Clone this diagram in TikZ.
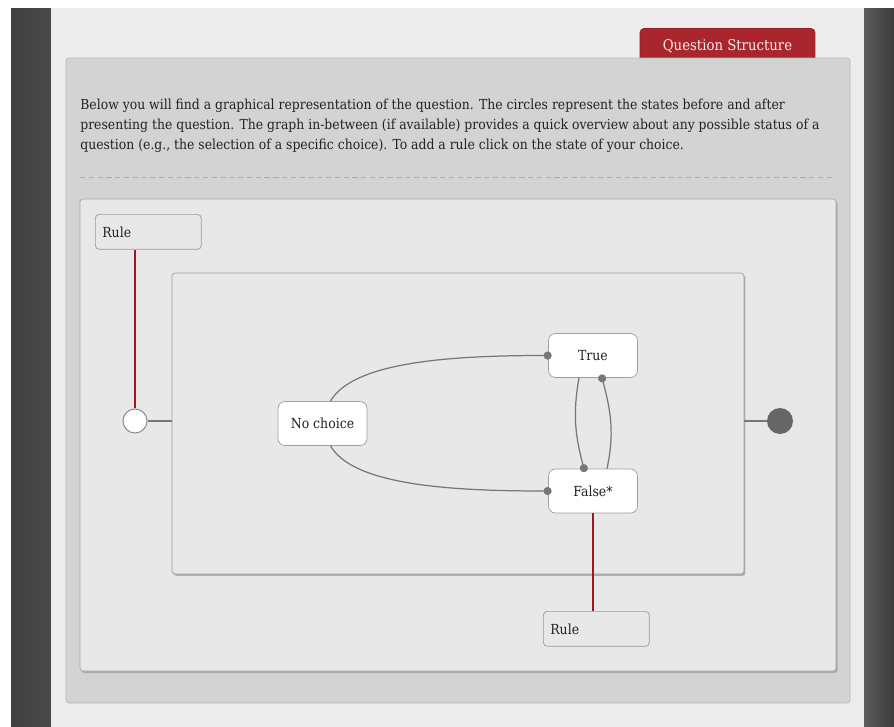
\documentclass[tikz,border=0pt]{standalone}
\usepackage{fontspec}
\setmainfont{DejaVu Serif Condensed}
\usetikzlibrary{arrows.meta,shadows}

\definecolor{wood}{HTML}{4A4A4A}
\definecolor{page}{HTML}{ECECEC}
\definecolor{panel}{HTML}{D3D3D3}
\definecolor{canvas}{HTML}{E8E8E8}
\definecolor{tabred}{HTML}{A8262C}
\definecolor{ruleline}{HTML}{A0161C}
\definecolor{edgegray}{HTML}{777777}
\definecolor{ink}{HTML}{222222}

\begin{document}
\begin{tikzpicture}[x=0.02cm,y=-0.02cm,
    state/.style={draw=gray!75,fill=white,rounded corners=0.14cm,
        minimum width=1.78cm,minimum height=0.88cm,
        font=\fontsize{7.9}{9}\selectfont,text=ink},
    rulebox/.style={draw=gray!80,fill=canvas,rounded corners=0.08cm,anchor=north west,
        text width=1.84cm,inner xsep=0.14cm,minimum height=0.70cm,align=left,
        font=\fontsize{7.9}{9}\selectfont,text=ink},
    edge/.style={draw=edgegray,line width=0.7pt},
    dotedge/.style={edge,-{Circle[length=4.6pt]},shorten >=-2pt},
    redline/.style={ruleline,line width=0.9pt}]

    % page, wood frame
    \useasboundingbox (0,0) rectangle (894,727);
    \fill[white] (0,0) rectangle (894,727);
    \fill[left color=wood!85!black,right color=wood] (11,8) rectangle (51,727);
    \fill[left color=wood!90!white,right color=wood!80!black] (864,8) rectangle (894,727);
    \fill[page] (51,8) rectangle (864,727);

    % tab on top of the panel
    \node[fill=tabred,draw=tabred!85!black,rounded corners=0.08cm,text=white!92!red,
        minimum width=3.5cm,minimum height=0.66cm,font=\fontsize{8.4}{10}\selectfont,
        text depth=0pt] (tab) at (727.5,45) {Question Structure};

    % outer panel
    \draw[fill=panel,draw=gray!55,rounded corners=0.06cm] (66,58) rectangle (850,703);

    % intro text
    \node[anchor=north west,align=left,inner sep=0pt,text=ink,
        font=\fontsize{7.85}{11.3}\selectfont] (intro) at (80,98.5)
        {Below you will find a graphical representation of the question. The circles represent the states before and after\\
         presenting the question. The graph in-between (if available) provides a quick overview about any possible status of a\\
         question (e.g., the selection of a specific choice). To add a rule click on the state of your choice.};
    \draw[gray!65,dash pattern=on 3pt off 2pt] (80,177) -- (833,177);

    % inner canvas
    \draw[fill=canvas,draw=gray!70,rounded corners=0.06cm,
        drop shadow={shadow xshift=0.03cm,shadow yshift=-0.04cm,fill=gray!80,opacity=0.7}]
        (80,199) rectangle (836,671);

    % group box
    \node[draw=gray!75,fill=canvas,rounded corners=0.06cm,minimum width=11.44cm,minimum height=6.02cm,
        drop shadow={shadow xshift=0.03cm,shadow yshift=-0.04cm,fill=gray!80,opacity=0.7}]
        (group) at (458,423.5) {};

    % start and end states
    \node[circle,draw=gray!90,line width=0.6pt,fill=white,minimum size=0.48cm,inner sep=0pt] (start) at (135,421) {};
    \node[circle,fill=gray!80!black,minimum size=0.52cm,inner sep=0pt] (done) at (780,421) {};

    % answer states
    \node[state] (nochoice) at (322.5,423.5) {No choice};
    \node[state] (true) at (593,355.5) {True};
    \node[state] (false) at (593,491) {False*};

    % rule boxes
    \node[rulebox] (rulestart) at (95,214) {Rule};
    \node[rulebox] (rulefalse) at (543,611) {Rule};

    % connectors
    \draw[edge] (start.east) -- (group.west |- start);
    \draw[edge] (group.east |- done) -- (done.west);
    \draw[dotedge] ([xshift=0.16cm]nochoice.north) .. controls +(60:0.9cm) and +(180:2cm) .. (true.west);
    \draw[dotedge] ([xshift=0.16cm]nochoice.south) .. controls +(-60:0.9cm) and +(180:2cm) .. (false.west);
    \draw[dotedge] ([xshift=-0.28cm]true.south) to[out=-100,in=105] ([xshift=-0.18cm]false.north);
    \draw[dotedge] ([xshift=0.28cm]false.north) to[out=78,in=-75] ([xshift=0.18cm]true.south);

    % rule links
    \draw[redline] (start.north) -- (start.north |- rulestart.south);
    \draw[redline] (false.south) -- (false.south |- rulefalse.north);
\end{tikzpicture}
\end{document}
